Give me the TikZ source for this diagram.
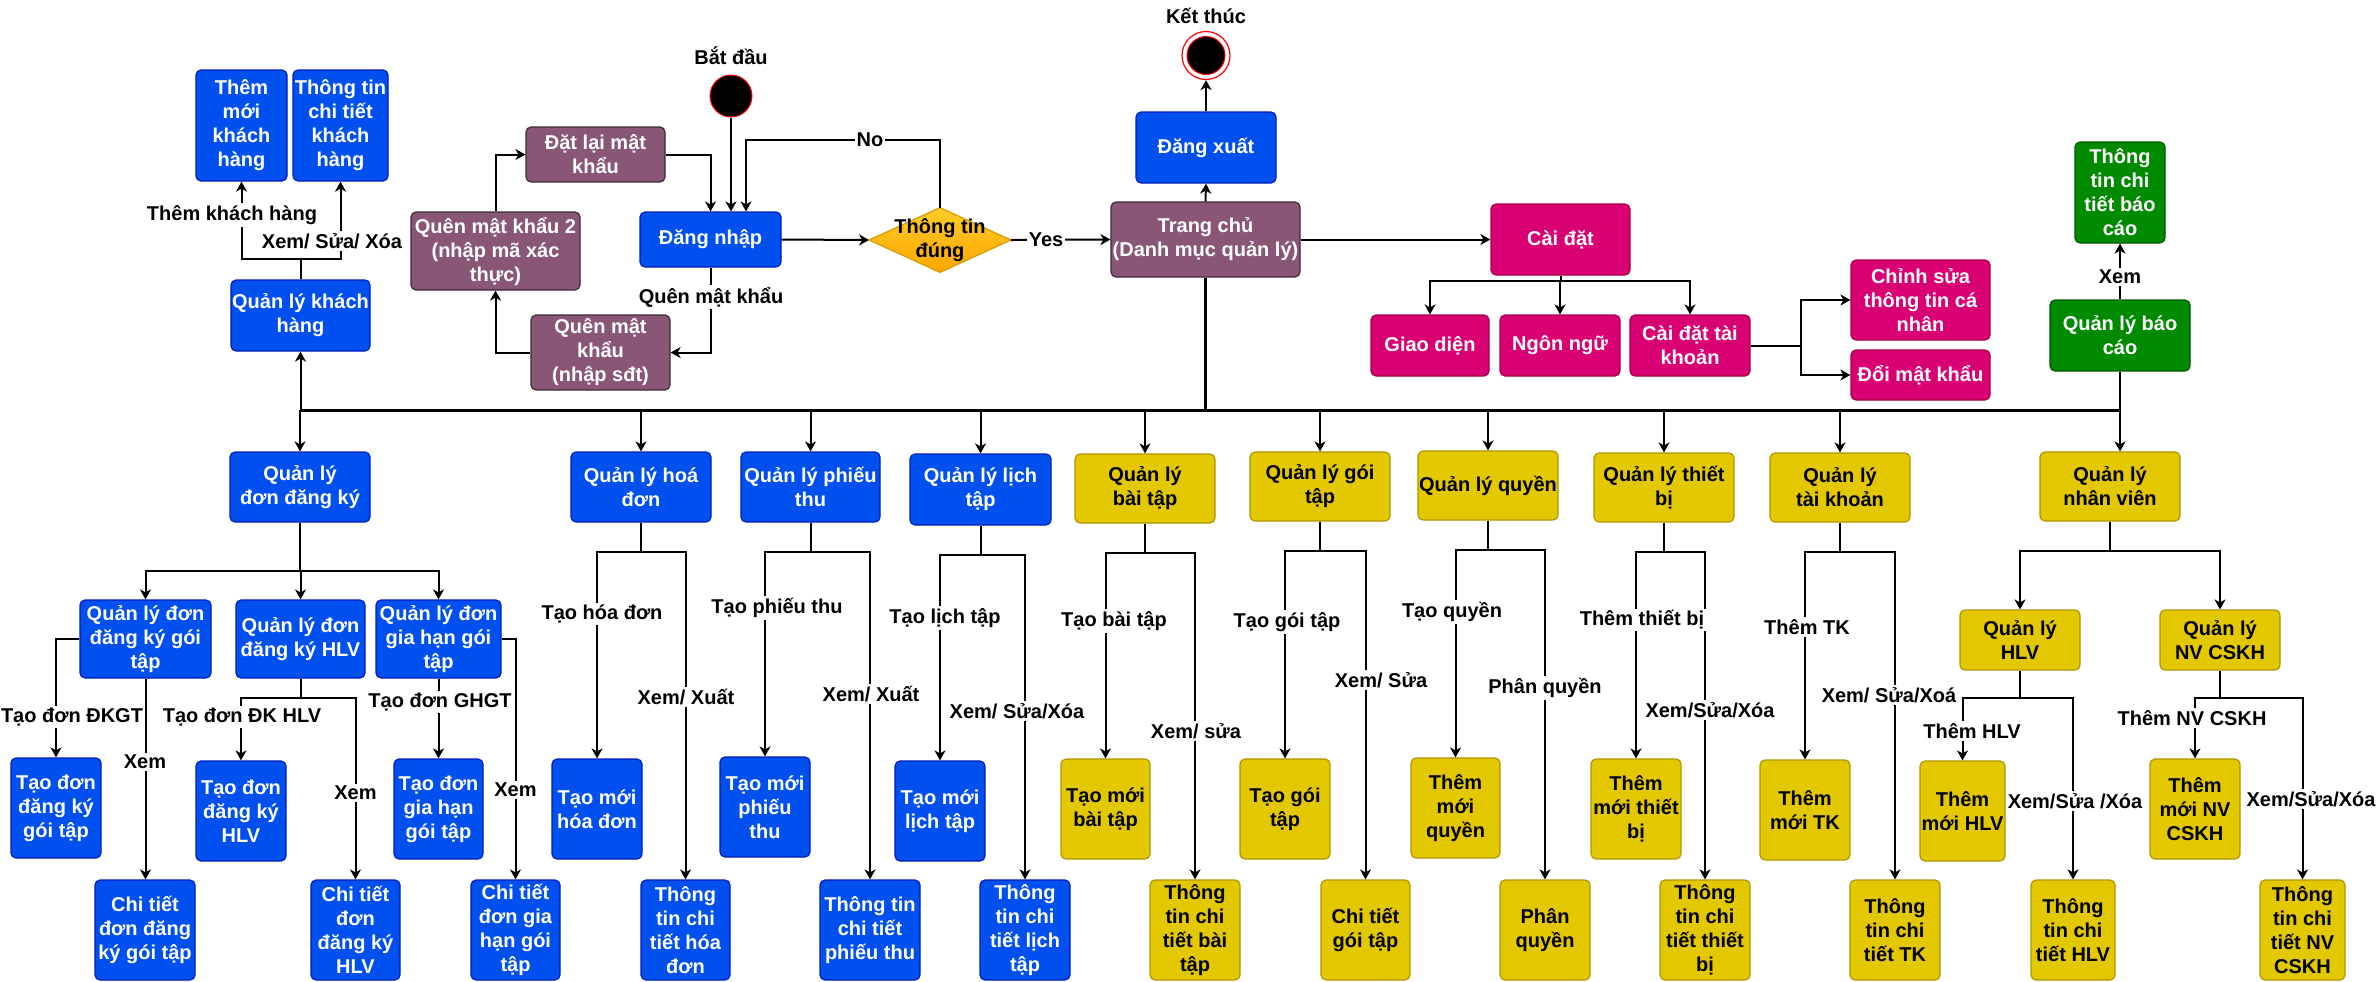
\documentclass[tikz,border=0pt]{standalone}
\usepackage{fontspec}
\setmainfont{Liberation Sans}
\usetikzlibrary{arrows.meta,calc,backgrounds}
\definecolor{cblue}{HTML}{0050EF}
\definecolor{cblueb}{HTML}{001DBC}
\definecolor{cyel}{HTML}{E3C800}
\definecolor{cyelb}{HTML}{B09500}
\definecolor{cmag}{HTML}{D80073}
\definecolor{cmagb}{HTML}{A50040}
\definecolor{cgrn}{HTML}{008A00}
\definecolor{cgrnb}{HTML}{005700}
\definecolor{cpur}{HTML}{8A5676}
\definecolor{cpurb}{HTML}{3C2A35}
\definecolor{cdiaA}{HTML}{FFCD28}
\definecolor{cdiaB}{HTML}{FFA500}
\definecolor{cdiab}{HTML}{D79B00}
\newcommand\grpedges[4]{%
  \draw[arr] (#1.south) -- ++(0,#4) -| (#2.north);
  \draw[arr] (#1.south) -- ++(0,#4) -| (#3.north);}
\begin{document}
\begin{tikzpicture}[x=0.5pt,y=-0.5pt,
  every node/.style={font=\fontsize{10}{12}\selectfont\bfseries, align=center, inner sep=0pt},
  box/.style args={#1/#2}{draw, rounded corners=2.5pt, line width=0.6pt, minimum width=#1pt, minimum height=#2pt},
  bl/.style={fill=cblue, draw=cblueb, text=white},
  yl/.style={fill=cyel, draw=cyelb, text=black},
  mg/.style={fill=cmag, draw=cmagb, text=white},
  gr/.style={fill=cgrn, draw=cgrnb, text=white},
  pu/.style={fill=cpur, draw=cpurb, text=white},
  arr/.style={line width=1pt, -{Stealth[length=5pt,width=5.5pt,inset=1.5pt]}},
  lbl/.style={fill=white, inner sep=1pt}]
\useasboundingbox (0,0) rectangle (2376,981);

% ---------- top-left ----------
\node[box=45.5/55.5, bl] (themKH) at (241.5,125.5) {Thêm\\mới\\khách\\hàng};
\node[box=47.5/55.5, bl] (ttKH) at (340.5,125.5) {Thông tin\\chi tiết\\khách\\hàng};
\node[box=69.5/35.5, bl] (qlKH) at (300.5,315.5) {Quản lý khách\\hàng};

\node[box=84.5/39, pu] (qmk2) at (495.5,251) {Quên mật khẩu 2\\(nhập mã xác\\thực)};
\node[box=69.5/27.5, pu] (datlai) at (595.5,154.5) {Đặt lại mật\\khẩu};
\node[box=69.5/37.5, pu] (qmk) at (600.5,352.5) {Quên mật\\khẩu\\(nhập sđt)};
\node[box=70.5/27.5, bl] (dangnhap) at (710.5,239.5) {Đăng nhập};

\node[circle, fill=black, draw=red, line width=0.5pt, minimum size=21pt] (start) at (731,96) {};
\node (startlbl) at (731,56) {Bắt đầu};

\node[minimum width=70.5pt, minimum height=32pt] (dia) at (940,240) {Thông tin\\đúng};
\begin{scope}[on background layer]
\shadedraw[top color=cdiaA, bottom color=cdiaB, draw=cdiab, line width=0.6pt]
  (dia.north) -- (dia.east) -- (dia.south) -- (dia.west) -- cycle;
\end{scope}

\node[box=94.5/37.5, pu] (trangchu) at (1205.5,239.5) {Trang chủ\\(Danh mục quản lý)};
\node[box=70/35.5, bl] (dangxuat) at (1206,147.5) {Đăng xuất};
\node[circle, draw=red, fill=white, line width=0.6pt, minimum size=24pt] (stop) at (1206,55.5) {};
\node[circle, fill=black, draw=red, line width=0.5pt, minimum size=19pt] (stopin) at (stop) {};
\node (stoplbl) at (1206,16) {Kết thúc};

% ---------- settings ----------
\node[box=69.5/35.5, mg] (caidat) at (1560.5,239.5) {Cài đặt};
\node[box=59/30.5, mg] (giaodien) at (1430,345.5) {Giao diện};
\node[box=60/30.5, mg] (ngonngu) at (1560,345.5) {Ngôn ngữ};
\node[box=60/30.5, mg] (cdtk) at (1690,345.5) {Cài đặt tài\\khoản};
\node[box=69.5/40, mg] (chinhsua) at (1920.5,300) {Chỉnh sửa\\thông tin cá\\nhân};
\node[box=69.5/25, mg] (doimk) at (1920.5,375) {Đổi mật khẩu};

\node[box=45/50.5, gr] (ttbc) at (2120,192.5) {Thông\\tin chi\\tiết báo\\cáo};
\node[box=70/35.5, gr] (qlbc) at (2120,335.5) {Quản lý báo\\cáo};

% ---------- second row ----------
\node[box=70/35, bl] (qldk) at (300,487) {Quản lý\\đơn đăng ký};
\node[box=70/35, bl] (qlhd) at (641,487) {Quản lý hoá\\đơn};
\node[box=69.5/35, bl] (qlpt) at (810.5,487) {Quản lý phiếu\\thu};
\node[box=70.5/35.5, bl] (qllt) at (980.5,489.5) {Quản lý lịch\\tập};
\node[box=70/34.5, yl] (qlbt) at (1145,488.5) {Quản lý\\bài tập};
\node[box=70/34.5, yl] (qlgt) at (1320,486.5) {Quản lý gói\\tập};
\node[box=70/34.5, yl] (qlq) at (1488,485.5) {Quản lý quyền};
\node[box=70/34.5, yl] (qltb) at (1664,487.5) {Quản lý thiết\\bị};
\node[box=70/34.5, yl] (qltk) at (1840,487.5) {Quản lý\\tài khoản};
\node[box=70/34.5, yl] (qlnv) at (2110,486.5) {Quản lý\\nhân viên};

% ---------- third row ----------
\node[box=65.5/39, bl] (dkgt) at (145.5,639) {Quản lý đơn\\đăng ký gói\\tập};
\node[box=64.5/39, bl] (dkhlv) at (300.5,639) {Quản lý đơn\\đăng ký HLV};
\node[box=62.5/39, bl] (ghgt) at (438.5,639) {Quản lý đơn\\gia hạn gói\\tập};
\node[box=60/30, yl] (qlhlv) at (2020,640) {Quản lý\\HLV};
\node[box=60/30, yl] (qlcskh) at (2220,640) {Quản lý\\NV CSKH};

% ---------- leaves A ----------
\node[box=45/50, bl] (tdgt) at (56,808) {Tạo đơn\\đăng ký\\gói tập};
\node[box=45/50, bl] (tdhlv) at (241,811) {Tạo đơn\\đăng ký\\HLV};
\node[box=44.5/50, bl] (tdgh) at (438.5,809) {Tạo đơn\\gia hạn\\gói tập};
\node[box=45/50, bl] (tmhd) at (597,809) {Tạo mới\\hóa đơn};
\node[box=45/50, bl] (tmpt) at (765,807) {Tạo mới\\phiếu\\thu};
\node[box=45/50, bl] (tmlt) at (940,811) {Tạo mới\\lịch tập};
\node[box=44.5/50, yl] (tmbt) at (1105.5,809) {Tạo mới\\bài tập};
\node[box=45/50, yl] (tgt) at (1285,809) {Tạo gói\\tập};
\node[box=44.5/50, yl] (tmq) at (1455.5,808) {Thêm\\mới\\quyền};
\node[box=45/50, yl] (tmtb) at (1636,809) {Thêm\\mới thiết\\bị};
\node[box=45/50, yl] (tmtk) at (1805,810) {Thêm\\mới TK};
\node[box=42.5/50, yl] (tmhlv) at (1962.5,811) {Thêm\\mới HLV};
\node[box=45/50, yl] (tmnv) at (2195,809) {Thêm\\mới NV\\CSKH};

% ---------- leaves B ----------
\node[box=50/50, bl] (ctdkgt) at (145,930) {Chi tiết\\đơn đăng\\ký gói tập};
\node[box=44.5/50, bl] (ctdkhlv) at (355.5,930) {Chi tiết\\đơn\\đăng ký\\HLV};
\node[box=44.5/50, bl] (ctgh) at (515.5,930) {Chi tiết\\đơn gia\\hạn gói\\tập};
\node[box=44.5/50, bl] (tthd) at (685.5,930) {Thông\\tin chi\\tiết hóa\\đơn};
\node[box=50/50, bl] (ttpt) at (870,930) {Thông tin\\chi tiết\\phiếu thu};
\node[box=45/50, bl] (ttlt) at (1025,930) {Thông\\tin chi\\tiết lịch\\tập};
\node[box=45/50, yl] (ttbt) at (1195,930) {Thông\\tin chi\\tiết bài\\tập};
\node[box=44.5/50, yl] (ctgt) at (1365.5,930) {Chi tiết\\gói tập};
\node[box=45/50, yl] (pq) at (1545,930) {Phân\\quyền};
\node[box=45/50, yl] (tttb) at (1705,930) {Thông\\tin chi\\tiết thiết\\bị};
\node[box=45/50, yl] (tttk) at (1895,930) {Thông\\tin chi\\tiết TK};
\node[box=42/50, yl] (tthlv) at (2073,930) {Thông\\tin chi\\tiết HLV};
\node[box=42.5/50, yl] (ttnv) at (2302.5,930) {Thông\\tin chi\\tiết NV\\CSKH};

% ---------- connectors: top ----------
\draw[arr] (qlKH.north) -- ++(0,-20) -| (themKH.south);
\draw[arr] (qlKH.north) -- ++(0,-20) -| (ttKH.south);
\draw[arr] (start.south) -- (start.south |- dangnhap.north);
\draw[arr] (datlai.east) -| (dangnhap.north);
\draw[arr] (dia.north) -- ++(0,-68) -| ($(dangnhap.north)+(35.5,0)$);
\draw[arr] (dangnhap.east) -- (dia.west);
\draw[arr] (dia.east) -- (trangchu.west);
\draw[arr] (trangchu.north) -- (dangxuat.south);
\draw[arr] (dangxuat.north) -- (stop.south);
\draw[arr] (trangchu.east) -- (caidat.west);
\draw[arr] (dangnhap.south) |- (qmk.east);
\draw[arr] (qmk.west) -| (qmk2.south);
\draw[arr] (qmk2.north) |- (datlai.west);

\draw[arr] (caidat.south) -- ++(0,5) -| (giaodien.north);
\draw[arr] (caidat.south) -- ++(0,5) -| (ngonngu.north);
\draw[arr] (caidat.south) -- ++(0,5) -| (cdtk.north);
\draw[arr] (cdtk.east) -- ++(50,0) |- (chinhsua.west);
\draw[arr] (cdtk.east) -- ++(50,0) |- (doimk.west);
\draw[arr] (qlbc.north) -- (ttbc.south);

% ---------- bus ----------
\coordinate (bus) at (0,410);
\draw[line width=1.5pt] (qlKH.south |- bus) -- (qlbc.south |- bus);
\draw[line width=1.5pt] (trangchu.south) -- (trangchu.south |- bus);
\draw[arr] (qlKH.south |- bus) -- (qlKH.south);
\draw[arr] (qlbc.south) -- (qlbc.south |- qlnv.north);
\foreach \n in {qldk,qlhd,qlpt,qllt,qlbt,qlgt,qlq,qltb,qltk}
  {\draw[arr] (\n.north |- bus) -- (\n.north);}

% ---------- connectors: registrations ----------
\draw[arr] (qldk.south) -- ++(0,48) -| (dkgt.north);
\draw[arr] (qldk.south) -- ++(0,48) -| (dkhlv.north);
\draw[arr] (qldk.south) -- ++(0,48) -| (ghgt.north);
\draw[arr] (dkgt.west) -| (tdgt.north);
\draw[arr] (dkgt.south) -- (dkgt.south |- ctdkgt.north);
\draw[arr] (dkhlv.south) -- ++(0,19) -| (tdhlv.north);
\draw[arr] (dkhlv.south) -- ++(0,19) -| (ctdkhlv.north);
\draw[arr] (ghgt.south) -- (ghgt.south |- tdgh.north);
\draw[arr] (ghgt.east) -| (ctgh.north);

% ---------- connectors: other groups ----------
\grpedges{qlhd}{tmhd}{tthd}{29}
\grpedges{qlpt}{tmpt}{ttpt}{29}
\grpedges{qllt}{tmlt}{ttlt}{29}
\grpedges{qlbt}{tmbt}{ttbt}{29}
\grpedges{qlgt}{tgt}{ctgt}{29}
\grpedges{qlq}{tmq}{pq}{29}
\grpedges{qltb}{tmtb}{tttb}{29}
\grpedges{qltk}{tmtk}{tttk}{29}
\grpedges{qlnv}{qlhlv}{qlcskh}{29}
\grpedges{qlhlv}{tmhlv}{tthlv}{27}
\grpedges{qlcskh}{tmnv}{ttnv}{27}

% ---------- labels ----------
\node[lbl] (l1) at (232,215) {Thêm khách hàng};
\node[lbl] (l2) at (332,241) {Xem/ Sửa/ Xóa};
\node[lbl] (l3) at (711,297) {Quên mật khẩu};
\node[lbl] (l4) at (870,140) {No};
\node[lbl] (l5) at (1046,240) {Yes};
\node[lbl] (l6) at (2120,277) {Xem};
\node[lbl] (l7) at (72,717) {Tạo đơn ĐKGT};
\node[lbl] (l8) at (145,762) {Xem};
\node[lbl] (l9) at (242,717) {Tạo đơn ĐK HLV};
\node[lbl] (l10) at (355.5,793) {Xem};
\node[lbl] (l11) at (440,702) {Tạo đơn GHGT};
\node[lbl] (l12) at (515.5,790) {Xem};
\node[lbl] (l13) at (602,614) {Tạo hóa đơn};
\node[lbl] (l14) at (686,697) {Xem/ Xuất};
\node[lbl] (l15) at (777,608) {Tạo phiếu thu};
\node[lbl] (l16) at (871,694) {Xem/ Xuất};
\node[lbl] (l17) at (945,618) {Tạo lịch tập};
\node[lbl] (l18) at (1017,711) {Xem/ Sửa/Xóa};
\node[lbl] (l19) at (1114,621) {Tạo bài tập};
\node[lbl] (l20) at (1196,731) {Xem/ sửa};
\node[lbl] (l21) at (1287,622) {Tạo gói tập};
\node[lbl] (l22) at (1381,680) {Xem/ Sửa};
\node[lbl] (l23) at (1452,612) {Tạo quyền};
\node[lbl] (l24) at (1545,688) {Phân quyền};
\node[lbl] (l25) at (1642,620) {Thêm thiết bị};
\node[lbl] (l26) at (1710,710) {Xem/Sửa/Xóa};
\node[lbl] (l27) at (1807,627) {Thêm TK};
\node[lbl] (l28) at (1889,695) {Xem/ Sửa/Xoá};
\node[lbl] (l29) at (1972,731) {Thêm HLV};
\node[lbl] (l30) at (2075,801) {Xem/Sửa /Xóa};
\node[lbl] (l31) at (2192,718) {Thêm NV CSKH};
\node[lbl] (l32) at (2311,799) {Xem/Sửa/Xóa};
\end{tikzpicture}
\end{document}
